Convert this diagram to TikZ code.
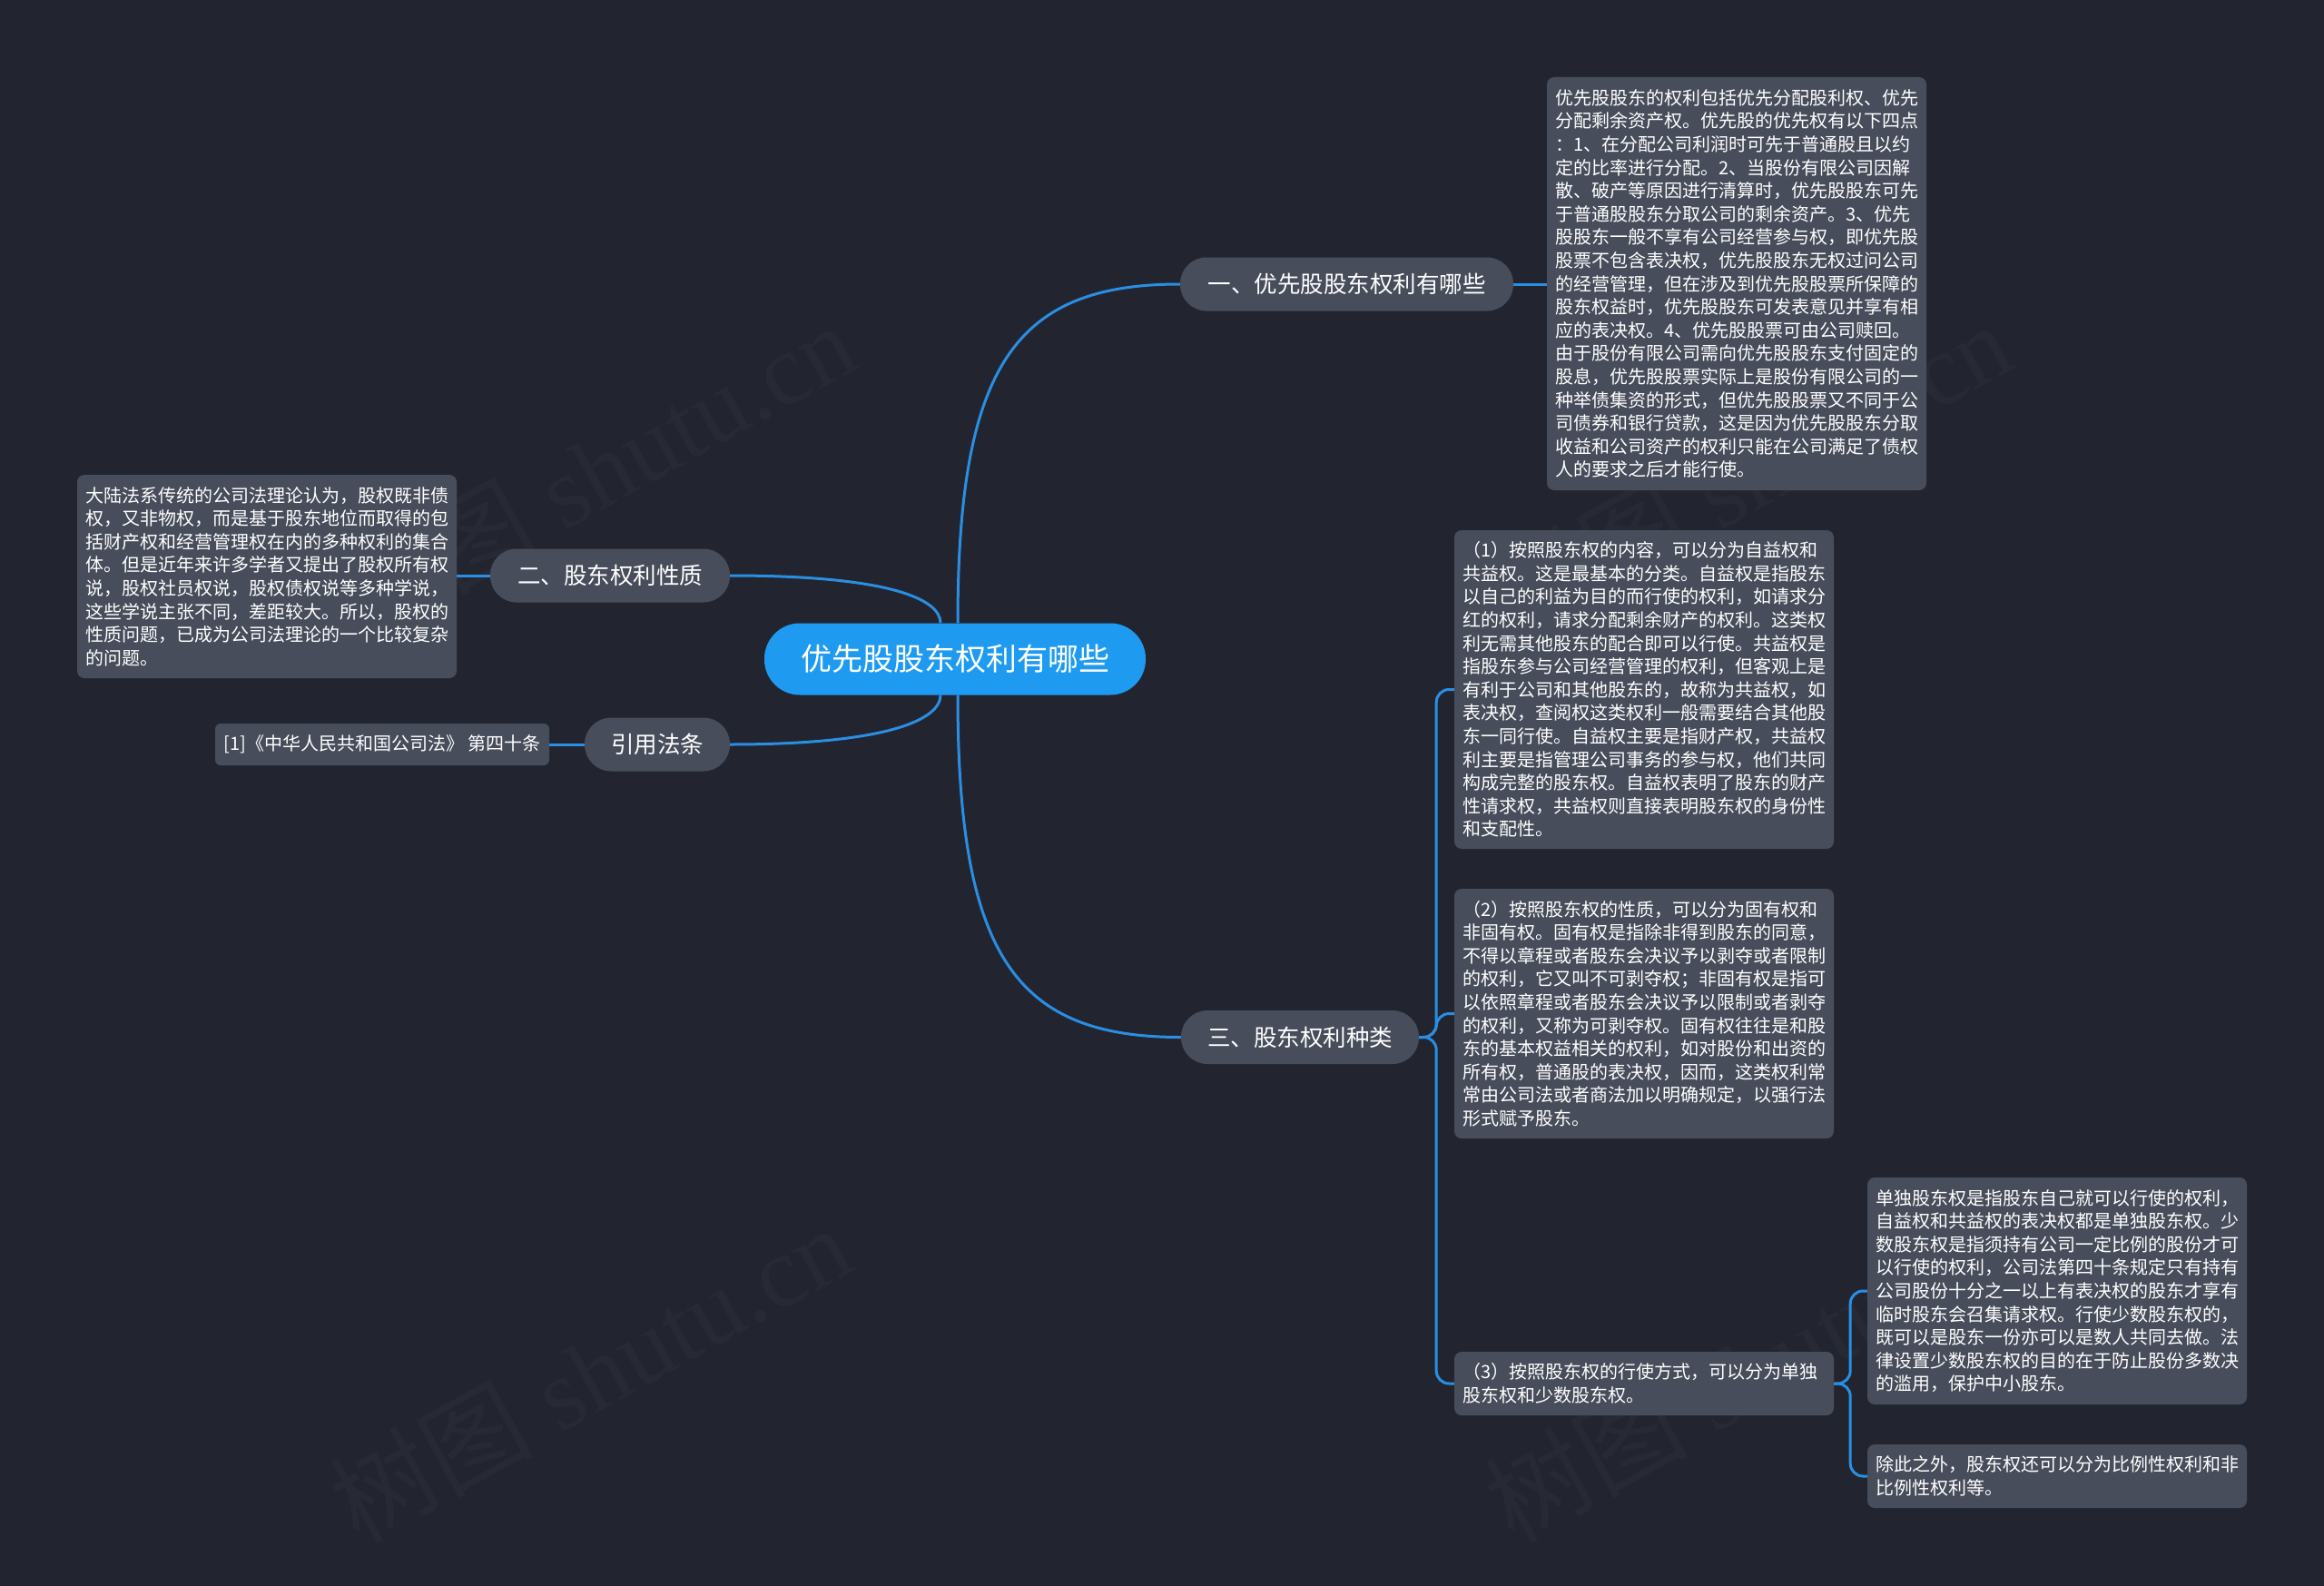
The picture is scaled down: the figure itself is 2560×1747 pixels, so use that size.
\documentclass[tikz,border=0pt]{standalone}
\usepackage{fontspec}
\newfontfamily\cjk{Noto Sans CJK SC}
\newfontfamily\wmserif{Liberation Serif}
\definecolor{bgc}{RGB}{34,37,48}
\definecolor{boxc}{RGB}{71,77,91}
\definecolor{centerc}{RGB}{30,155,240}
\definecolor{linec}{RGB}{42,142,226}
\definecolor{wmc}{RGB}{39,42,53}
\tikzset{
  conn/.style={draw=linec, line width=3pt},
  txtbox/.style={fill=boxc, rounded corners=8pt, text=white, align=left,
    font=\cjk\fontsize{20}{25.6}\selectfont, text width=400pt, inner xsep=9pt, inner ysep=6pt},
  branch/.style={fill=boxc, rounded corners=29pt, text=white, align=center,
    font=\cjk\fontsize{25.5}{30}\selectfont, minimum height=59pt, inner sep=0pt},
  wm/.style={text=wmc, font=\wmserif\fontsize{112}{116}\selectfont, rotate=29}
}
\begin{document}
\begin{tikzpicture}[x=1pt,y=-1pt]
\fill[bgc] (0,0) rectangle (2560,1747);
\useasboundingbox (0,0) rectangle (2560,1747);
% watermarks
\node[wm] (w1) at (655,518) {{\cjk 树图} shutu.cn};
\node[wm] (w2) at (650,1512) {{\cjk 树图} shutu.cn};
\node[wm] (w3) at (1928,518) {{\cjk 树图} shutu.cn};
\node[wm] (w4) at (1922,1512) {{\cjk 树图} shutu.cn};

% center
\node[fill=centerc, rounded corners=39pt, text=white, minimum width=420pt, minimum height=79pt,
  inner sep=0pt, font=\cjk\fontsize{34}{40}\selectfont] (c) at (1052,726) {优先股股东权利有哪些};

% branches
\node[branch, minimum width=367pt] (b1) at (1483.5,313) {一、优先股股东权利有哪些};
\node[branch, minimum width=264pt] (b2) at (672,634) {二、股东权利性质};
\node[branch, minimum width=160pt] (b4) at (724,820) {引用法条};
\node[branch, minimum width=262pt] (b3) at (1432,1142.5) {三、股东权利种类};

% text boxes
\node[txtbox, minimum height=455pt] (t1) at (1913,312.5) {优先股股东的权利包括优先分配股利权、优先\\
分配剩余资产权。优先股的优先权有以下四点\\
：1、在分配公司利润时可先于普通股且以约\\
定的比率进行分配。2、当股份有限公司因解\\
散、破产等原因进行清算时，优先股股东可先\\
于普通股股东分取公司的剩余资产。3、优先\\
股股东一般不享有公司经营参与权，即优先股\\
股票不包含表决权，优先股股东无权过问公司\\
的经营管理，但在涉及到优先股股票所保障的\\
股东权益时，优先股股东可发表意见并享有相\\
应的表决权。4、优先股股票可由公司赎回。\\
由于股份有限公司需向优先股股东支付固定的\\
股息，优先股股票实际上是股份有限公司的一\\
种举债集资的形式，但优先股股票又不同于公\\
司债券和银行贷款，这是因为优先股股东分取\\
收益和公司资产的权利只能在公司满足了债权\\
人的要求之后才能行使。};

\node[txtbox, minimum height=224pt] (t2) at (294,635) {大陆法系传统的公司法理论认为，股权既非债\\
权，又非物权，而是基于股东地位而取得的包\\
括财产权和经营管理权在内的多种权利的集合\\
体。但是近年来许多学者又提出了股权所有权\\
说，股权社员权说，股权债权说等多种学说，\\
这些学说主张不同，差距较大。所以，股权的\\
性质问题，已成为公司法理论的一个比较复杂\\
的问题。};

\node[fill=boxc, rounded corners=6pt, text=white, minimum width=368pt, minimum height=46pt,
  inner sep=0pt, font=\cjk\fontsize{20}{24}\selectfont] (cite) at (421,820) {[1]《中华人民共和国公司法》 第四十条};

\node[txtbox, minimum height=351pt] (r1) at (1811,759.5) {（1）按照股东权的内容，可以分为自益权和\\
共益权。这是最基本的分类。自益权是指股东\\
以自己的利益为目的而行使的权利，如请求分\\
红的权利，请求分配剩余财产的权利。这类权\\
利无需其他股东的配合即可以行使。共益权是\\
指股东参与公司经营管理的权利，但客观上是\\
有利于公司和其他股东的，故称为共益权，如\\
表决权，查阅权这类权利一般需要结合其他股\\
东一同行使。自益权主要是指财产权，共益权\\
利主要是指管理公司事务的参与权，他们共同\\
构成完整的股东权。自益权表明了股东的财产\\
性请求权，共益权则直接表明股东权的身份性\\
和支配性。};

\node[txtbox, minimum height=275pt] (r2) at (1811,1116.5) {（2）按照股东权的性质，可以分为固有权和\\
非固有权。固有权是指除非得到股东的同意，\\
不得以章程或者股东会决议予以剥夺或者限制\\
的权利，它又叫不可剥夺权；非固有权是指可\\
以依照章程或者股东会决议予以限制或者剥夺\\
的权利，又称为可剥夺权。固有权往往是和股\\
东的基本权益相关的权利，如对股份和出资的\\
所有权，普通股的表决权，因而，这类权利常\\
常由公司法或者商法加以明确规定，以强行法\\
形式赋予股东。};

\node[txtbox, minimum height=70pt] (r3) at (1811,1524) {（3）按照股东权的行使方式，可以分为单独\\
股东权和少数股东权。};

\node[txtbox, minimum height=250pt] (f1) at (2266,1422) {单独股东权是指股东自己就可以行使的权利，\\
自益权和共益权的表决权都是单独股东权。少\\
数股东权是指须持有公司一定比例的股份才可\\
以行使的权利，公司法第四十条规定只有持有\\
公司股份十分之一以上有表决权的股东才享有\\
临时股东会召集请求权。行使少数股东权的，\\
既可以是股东一份亦可以是数人共同去做。法\\
律设置少数股东权的目的在于防止股份多数决\\
的滥用，保护中小股东。};

\node[txtbox, minimum height=70pt] (f2) at (2266,1626) {除此之外，股东权还可以分为比例性权利和非\\
比例性权利等。};

% connectors from center
\draw[conn] ([xshift=3pt]c.north) .. controls ([xshift=3pt]c.north |- 0,400) and (1120,313) .. (b1.west);
\draw[conn] ([xshift=3pt]c.south) .. controls ([xshift=3pt]c.south |- 0,1055) and (1120,1142.5) .. (b3.west);
\draw[conn] (b2.east) .. controls (980,634) and ([xshift=-16pt]c.north |- 0,660) .. ([xshift=-16pt]c.north);
\draw[conn] (b4.east) .. controls (980,820) and ([xshift=-16pt]c.south |- 0,792) .. ([xshift=-16pt]c.south);

% short links
\draw[conn] (b1.east) -- (t1.west |- b1.east);
\draw[conn] (b2.west) -- (t2.east |- b2.west);
\draw[conn] (b4.west) -- (cite.east);

% tree of branch 3
\draw[conn, rounded corners=14pt] (b3.east) -- ++(19,0) |- (r1.west);
\draw[conn, rounded corners=14pt] (b3.east) -- ++(19,0) |- (r2.west);
\draw[conn, rounded corners=14pt] (b3.east) -- ++(19,0) |- (r3.west);
\draw[conn, rounded corners=14pt] (r3.east) -- ++(18,0) |- (f1.west);
\draw[conn, rounded corners=14pt] (r3.east) -- ++(18,0) |- (f2.west);
\end{tikzpicture}
\end{document}
